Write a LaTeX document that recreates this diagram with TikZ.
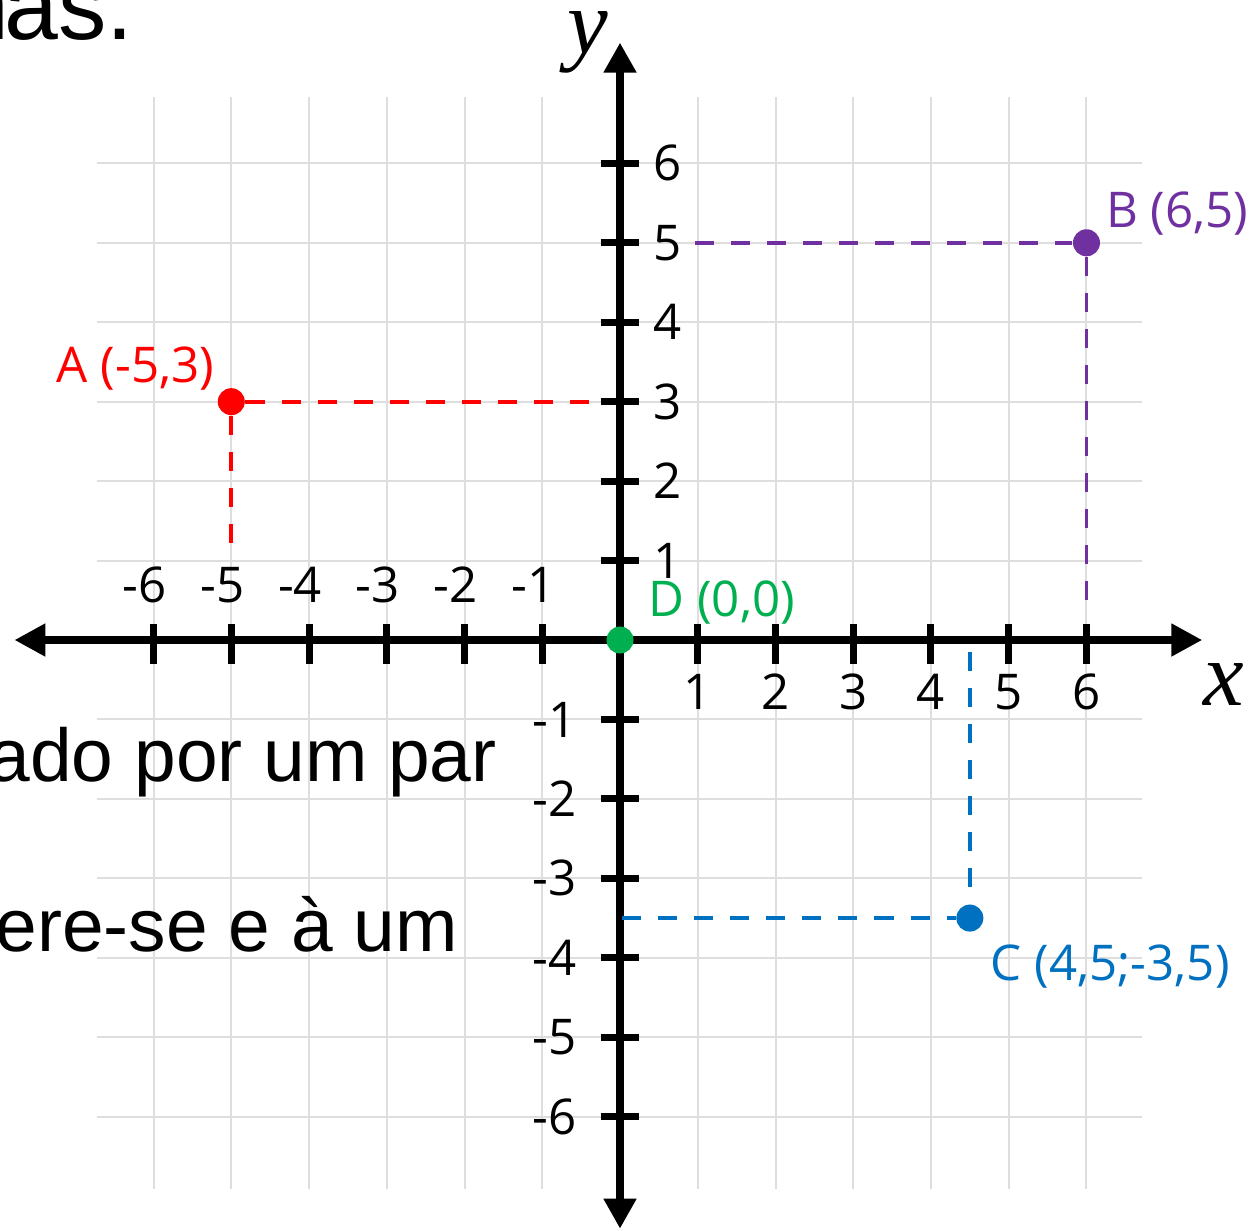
\documentclass[tikz,border=0pt]{standalone}
\usepackage{fontspec}
\setmainfont{Open Sans}
\newfontfamily\arialf{Liberation Sans}
\newfontfamily\seriff{Liberation Serif}
\usetikzlibrary{arrows.meta}
\definecolor{gridgray}{RGB}{222,222,222}
\definecolor{ptred}{RGB}{255,0,0}
\definecolor{ptpurple}{RGB}{112,48,160}
\definecolor{ptblue}{RGB}{0,112,192}
\definecolor{ptgreen}{RGB}{0,176,80}
\tikzset{
  gridline/.style={draw=gridgray, line width=0.02cm},
  axisline/.style={draw=black, line width=0.085cm},
  tickline/.style={draw=black, line width=0.07cm},
  guide/.style={line width=0.038cm, dash pattern=on 0.19cm off 0.17cm},
  dot/.style={circle, inner sep=0pt, minimum size=0.27cm},
  ticklabel/.style={inner sep=0pt, font=\fontsize{14}{17}\selectfont},
  ptlabel/.style={inner sep=0pt, font=\fontsize{14}{17}\selectfont},
  bgtext/.style={inner sep=0pt, font=\arialf\fontsize{21.3}{25}\selectfont},
  axislabel/.style={inner sep=0pt, font=\seriff\itshape\fontsize{26}{30}\selectfont}
}
\begin{document}
\begin{tikzpicture}[x=0.01cm,y=-0.01cm]
\useasboundingbox (0,0) rectangle (1252,1230);
\fill[white] (0,0) rectangle (1252,1230);
\begin{scope}[shift={(620,640)}, x=0.777cm, y=0.794cm]
  % grid
  \foreach \i in {-6,...,6} {
    \draw[gridline] (\i,-6.91) -- (\i,6.84);
    \draw[gridline] (-6.73,\i) -- (6.72,\i);
  }
\end{scope}
% background page text
\node[bgtext, font=\arialf\fontsize{27.5}{30}\selectfont, anchor=base east] (t1) at (134,39) {n\kern-0.05em as.};
\node[bgtext, anchor=base west] (t2) at (-12,781) {ado por um par};
\node[bgtext, anchor=base west] (t3) at (-5,951) {ere-se e à um};
\begin{scope}[shift={(620,640)}, x=0.777cm, y=0.794cm]
  % axes
  \coordinate (xl) at (-7.79,0);
  \coordinate (xr) at (7.49,0);
  \coordinate (yt) at (0,7.52);
  \coordinate (yb) at (0,-7.41);
  \draw[axisline, {Triangle[length=0.31cm,width=0.31cm]}-{Triangle[length=0.31cm,width=0.31cm]}] (xl) -- (xr);
  \draw[axisline, {Triangle[length=0.30cm,width=0.31cm]}-{Triangle[length=0.30cm,width=0.31cm]}] (yb) -- (yt);
  % ticks
  \foreach \i in {-6,-5,-4,-3,-2,-1,1,2,3,4,5,6} {
    \draw[tickline] (\i,0.2) -- (\i,-0.3);
    \draw[tickline] (-0.25,\i) -- (0.25,\i);
  }
  % tick labels
  \foreach \i in {-6,-5,-4,-3,-2,-1} {
    \node[ticklabel, anchor=base] (xn\i) at (\i-0.116,0.466) {\i};
    \node[ticklabel, anchor=east] (yn\i) at (-0.553,\i) {\i};
  }
  \foreach \i in {1,...,6} {
    \node[ticklabel, anchor=base] (xp\i) at (\i,-0.88) {\i};
    \node[ticklabel, anchor=west] (yp\i) at (0.42,\i) {\i};
  }
  % axis labels
  \node[axislabel, anchor=base] (xlab) at (7.77,-0.83) {x};
  \node[axislabel, anchor=base] (ylab) at (-0.41,7.38) {y};
  % points
  \node[dot, fill=ptred] (A) at (-5,3) {};
  \node[dot, fill=ptpurple] (B) at (6,5) {};
  \node[dot, fill=ptblue] (C) at (4.5,-3.5) {};
  \node[dot, fill=ptgreen] (D) at (0,0) {};
  % guide end points
  \coordinate (Ah) at (-0.3,3);
  \coordinate (Av) at (-5,1.13);
  \coordinate (Bh) at (0.965,5);
  \coordinate (Bv) at (6,0.34);
  \coordinate (Ch) at (0.03,-3.5);
  \coordinate (Cv) at (4.5,-0.15);
  \draw[guide, ptred] (A) -- (Ah);
  \draw[guide, ptred] (A) -- (Av);
  \draw[guide, ptpurple] (Bh) -- (B);
  \draw[guide, ptpurple] (B) -- (Bv);
  \draw[guide, ptblue] (Ch) -- (C);
  \draw[guide, ptblue] (Cv) -- (C);
  % point labels
  \node[ptlabel, text=ptred, anchor=base east] (Alab) at (-5.21,3.237) {A (-5,3)};
  \node[ptlabel, text=ptpurple, anchor=base west] (Blab) at (6.242,5.189) {B (6,5)};
  \node[ptlabel, text=ptblue, anchor=base west] (Clab) at (4.762,-4.282) {C (4,5;-3,5)};
  \node[ptlabel, text=ptgreen, anchor=base west] (Dlab) at (0.36,0.29) {D (0,0)};
\end{scope}
\end{tikzpicture}
\end{document}
